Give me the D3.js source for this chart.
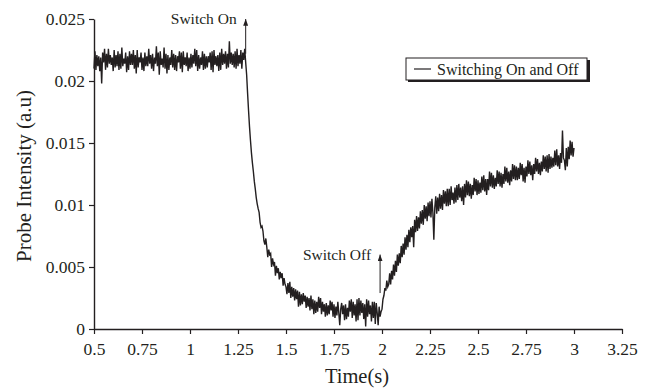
<!DOCTYPE html>
<html lang="en">
<head>
    <meta charset="UTF-8">
    <title>Probe Intensity vs Time</title>
    <script src="https://d3js.org/d3.v7.min.js"></script>
    <style>
        body { margin: 0; background: #fff; }
        text { font-family: "Liberation Serif", "Times New Roman", serif; fill: #231f20; }
    </style>
</head>
<body>
<script>
    // sampling of the trace (seconds)
    var startTime = 0.5, timeStep = 0.005;

    // probe intensity, one value every 0.005 s from 0.50 s to 3.00 s (one row = 0.1 s)
    var intensity = [
        0.0210, 0.0224, 0.0209, 0.0221, 0.0212, 0.0220, 0.0208, 0.0219, 0.0198, 0.0223, 0.0215, 0.0226, 0.0209, 0.0222, 0.0211, 0.0226, 0.0214, 0.0221, 0.0213, 0.0219,
        0.0208, 0.0225, 0.0211, 0.0221, 0.0212, 0.0224, 0.0209, 0.0222, 0.0210, 0.0227, 0.0212, 0.0218, 0.0214, 0.0223, 0.0207, 0.0220, 0.0209, 0.0224, 0.0213, 0.0222,
        0.0213, 0.0225, 0.0210, 0.0221, 0.0206, 0.0225, 0.0211, 0.0219, 0.0215, 0.0223, 0.0209, 0.0219, 0.0208, 0.0223, 0.0212, 0.0220, 0.0212, 0.0226, 0.0214, 0.0221,
        0.0210, 0.0222, 0.0208, 0.0219, 0.0214, 0.0228, 0.0212, 0.0223, 0.0205, 0.0224, 0.0213, 0.0218, 0.0211, 0.0227, 0.0210, 0.0222, 0.0206, 0.0221, 0.0209, 0.0219,
        0.0213, 0.0225, 0.0211, 0.0222, 0.0209, 0.0221, 0.0208, 0.0220, 0.0215, 0.0224, 0.0210, 0.0223, 0.0207, 0.0224, 0.0213, 0.0219, 0.0212, 0.0223, 0.0208, 0.0219,
        0.0210, 0.0222, 0.0211, 0.0221, 0.0214, 0.0226, 0.0212, 0.0225, 0.0208, 0.0221, 0.0210, 0.0219, 0.0213, 0.0224, 0.0209, 0.0222, 0.0210, 0.0220, 0.0211, 0.0220,
        0.0215, 0.0223, 0.0209, 0.0224, 0.0207, 0.0225, 0.0213, 0.0220, 0.0212, 0.0221, 0.0208, 0.0223, 0.0209, 0.0226, 0.0213, 0.0222, 0.0214, 0.0224, 0.0210, 0.0222,
        0.0211, 0.0232, 0.0214, 0.0223, 0.0213, 0.0222, 0.0211, 0.0224, 0.0210, 0.0226, 0.0212, 0.0221, 0.0214, 0.0225, 0.0210, 0.0223, 0.0217, 0.0226, 0.0215, 0.0205,
        0.0190, 0.0176, 0.0163, 0.0152, 0.0142, 0.0134, 0.0127, 0.0119, 0.0113, 0.0106, 0.0101, 0.0097, 0.0094, 0.0086, 0.0082, 0.0083, 0.0079, 0.0071, 0.0068, 0.0073,
        0.0066, 0.0058, 0.0064, 0.0060, 0.0061, 0.0050, 0.0057, 0.0052, 0.0054, 0.0043, 0.0051, 0.0045, 0.0049, 0.0040, 0.0046, 0.0041, 0.0045, 0.0035, 0.0041, 0.0036,
        0.0034, 0.0028, 0.0037, 0.0029, 0.0038, 0.0025, 0.0034, 0.0026, 0.0033, 0.0023, 0.0032, 0.0024, 0.0031, 0.0018, 0.0030, 0.0019, 0.0028, 0.0020, 0.0029, 0.0022,
        0.0027, 0.0017, 0.0026, 0.0018, 0.0025, 0.0015, 0.0027, 0.0016, 0.0024, 0.0012, 0.0023, 0.0013, 0.0022, 0.0014, 0.0026, 0.0017, 0.0025, 0.0012, 0.0022, 0.0014,
        0.0020, 0.0010, 0.0021, 0.0011, 0.0019, 0.0012, 0.0023, 0.0015, 0.0022, 0.0010, 0.0020, 0.0009, 0.0018, 0.0011, 0.0022, 0.0013, 0.0003, 0.0016, 0.0021, 0.0012,
        0.0019, 0.0007, 0.0020, 0.0008, 0.0017, 0.0010, 0.0023, 0.0014, 0.0024, 0.0009, 0.0022, 0.0011, 0.0020, 0.0006, 0.0024, 0.0007, 0.0025, 0.0011, 0.0023, 0.0013,
        0.0021, 0.0008, 0.0020, 0.0002, 0.0024, 0.0010, 0.0023, 0.0012, 0.0019, 0.0006, 0.0022, 0.0009, 0.0022, 0.0004, 0.0021, 0.0013, 0.0003, 0.0018, 0.0010, 0.0014,
        0.0016, 0.0024, 0.0027, 0.0033, 0.0031, 0.0039, 0.0034, 0.0036, 0.0045, 0.0036, 0.0047, 0.0040, 0.0052, 0.0043, 0.0055, 0.0046, 0.0060, 0.0051, 0.0061, 0.0053,
        0.0067, 0.0058, 0.0069, 0.0060, 0.0074, 0.0064, 0.0076, 0.0066, 0.0080, 0.0070, 0.0082, 0.0074, 0.0083, 0.0066, 0.0088, 0.0078, 0.0091, 0.0079, 0.0090, 0.0081,
        0.0095, 0.0085, 0.0096, 0.0084, 0.0100, 0.0089, 0.0099, 0.0087, 0.0102, 0.0091, 0.0103, 0.0090, 0.0105, 0.0094, 0.0072, 0.0098, 0.0107, 0.0093, 0.0106, 0.0095,
        0.0109, 0.0097, 0.0108, 0.0096, 0.0112, 0.0101, 0.0111, 0.0099, 0.0113, 0.0099, 0.0113, 0.0100, 0.0115, 0.0104, 0.0110, 0.0101, 0.0114, 0.0102, 0.0116, 0.0104,
        0.0117, 0.0106, 0.0114, 0.0103, 0.0115, 0.0100, 0.0117, 0.0106, 0.0120, 0.0108, 0.0119, 0.0107, 0.0117, 0.0105, 0.0116, 0.0108, 0.0122, 0.0111, 0.0121, 0.0108,
        0.0120, 0.0109, 0.0118, 0.0110, 0.0123, 0.0112, 0.0124, 0.0111, 0.0121, 0.0108, 0.0121, 0.0112, 0.0127, 0.0115, 0.0126, 0.0114, 0.0124, 0.0113, 0.0122, 0.0115,
        0.0128, 0.0117, 0.0127, 0.0115, 0.0126, 0.0114, 0.0125, 0.0117, 0.0131, 0.0119, 0.0130, 0.0118, 0.0127, 0.0116, 0.0128, 0.0119, 0.0133, 0.0121, 0.0132, 0.0120,
        0.0131, 0.0120, 0.0130, 0.0121, 0.0134, 0.0124, 0.0133, 0.0119, 0.0130, 0.0118, 0.0131, 0.0123, 0.0136, 0.0125, 0.0135, 0.0124, 0.0132, 0.0120, 0.0133, 0.0125,
        0.0138, 0.0127, 0.0137, 0.0125, 0.0134, 0.0124, 0.0135, 0.0127, 0.0140, 0.0129, 0.0139, 0.0127, 0.0140, 0.0126, 0.0141, 0.0129, 0.0139, 0.0130, 0.0138, 0.0131,
        0.0144, 0.0132, 0.0145, 0.0131, 0.0140, 0.0129, 0.0142, 0.0134, 0.0160, 0.0138, 0.0136, 0.0128, 0.0146, 0.0131, 0.0147, 0.0137, 0.0152, 0.0140, 0.0151, 0.0139,
        0.0146
    ];

    // axis ticks
    var xTicks = [0.5, 0.75, 1, 1.25, 1.5, 1.75, 2, 2.25, 2.5, 2.75, 3, 3.25];
    var yTicks = [0, 0.005, 0.01, 0.015, 0.02, 0.025];

    // arrow annotations: label, time, arrow from/to intensity
    var notes = [
        {label: "Switch On", t: 1.29, from: 0.0222, to: 0.025},
        {label: "Switch Off", t: 1.99, from: 0.0029, to: 0.0060}
    ];

    var seriesName = "Switching On and Off";

    var serif = "'Liberation Serif', 'Times New Roman', 'DejaVu Serif', serif";

    var margin = {top: 19, right: 29, bottom: 59, left: 94},
        width = 651 - margin.left - margin.right,
        height = 388 - margin.top - margin.bottom;

    var svg = d3.select("body").append("svg")
        .attr("width", 651)
        .attr("height", 388)
        .attr("font-family", serif)
        .append("g")
        .attr("transform", "translate(" + margin.left + "," + margin.top + ")");

    var x = d3.scaleLinear().domain([0.5, 3.25]).range([0, width]);
    var y = d3.scaleLinear().domain([0, 0.025]).range([height, 0]);

    var data = intensity.map(function(v, i) {
        return {t: startTime + i * timeStep, v: v};
    });

    // the trace
    svg.append("path")
        .datum(data)
        .attr("fill", "none")
        .attr("stroke", "#231f20")
        .attr("stroke-width", 1.4)
        .attr("d", d3.line().x(d => x(d.t)).y(d => y(d.v)));

    // axes
    var xAxis = svg.append("g")
        .attr("transform", "translate(0," + height + ")")
        .call(d3.axisBottom(x).tickValues(xTicks).tickSize(5).tickSizeOuter(0).tickPadding(9).tickFormat(d3.format("")));
    var yAxis = svg.append("g")
        .call(d3.axisLeft(y).tickValues(yTicks).tickSize(5).tickSizeOuter(0).tickPadding(4).tickFormat(d3.format("")));

    [xAxis, yAxis].forEach(function(a) {
        a.attr("font-family", serif).attr("font-size", 17.5);
        a.select(".domain").attr("stroke", "#231f20").attr("stroke-width", 1.4);
        a.selectAll(".tick line").attr("stroke", "#231f20").attr("stroke-width", 1.2);
        a.selectAll(".tick text").attr("fill", "#231f20");
    });

    // axis titles
    svg.append("text")
        .attr("text-anchor", "middle")
        .attr("x", width / 2 - 1)
        .attr("y", height + 54)
        .style("font-size", "20.5px")
        .text("Time(s)");

    svg.append("text")
        .attr("text-anchor", "middle")
        .attr("transform", "rotate(-90)")
        .attr("x", -157)
        .attr("y", -margin.left + 31)
        .style("font-size", "21px")
        .text("Probe Intensity (a.u)");

    // arrow head, drawn along the line direction
    svg.append("defs").append("marker")
        .attr("id", "head")
        .attr("viewBox", "0 0 8 6")
        .attr("refX", 8).attr("refY", 3)
        .attr("markerWidth", 7).attr("markerHeight", 5)
        .attr("markerUnits", "userSpaceOnUse")
        .attr("orient", "auto")
        .append("path")
        .attr("d", "M0,0 L8,3 L0,6 Z")
        .attr("fill", "#231f20");

    var note = svg.append("g").selectAll("g")
        .data(notes)
        .enter().append("g");

    note.append("line")
        .attr("x1", d => x(d.t)).attr("x2", d => x(d.t))
        .attr("y1", d => y(d.from)).attr("y2", d => y(d.to))
        .attr("stroke", "#231f20")
        .attr("stroke-width", 1)
        .attr("marker-end", "url(#head)");

    note.append("text")
        .attr("text-anchor", "end")
        .attr("x", d => x(d.t) - 9)
        .attr("y", d => y(d.to) + 5)
        .style("font-size", "15.5px")
        .text(d => d.label);

    // legend box with a drop shadow
    var legend = svg.append("g")
        .attr("transform", "translate(" + (406 - margin.left) + "," + (58 - margin.top) + ")");
    legend.append("rect")
        .attr("x", 2).attr("y", 2)
        .attr("width", 182).attr("height", 22)
        .attr("fill", "#231f20");
    legend.append("rect")
        .attr("x", 0).attr("y", 0)
        .attr("width", 181).attr("height", 22)
        .attr("fill", "#fff")
        .attr("stroke", "#231f20")
        .attr("stroke-width", 1);
    legend.append("line")
        .attr("x1", 8).attr("x2", 25)
        .attr("y1", 11).attr("y2", 11)
        .attr("stroke", "#231f20")
        .attr("stroke-width", 1.2);
    legend.append("text")
        .attr("x", 31)
        .attr("y", 16.5)
        .style("font-size", "16px")
        .text(seriesName);
</script>
</body>
</html>
